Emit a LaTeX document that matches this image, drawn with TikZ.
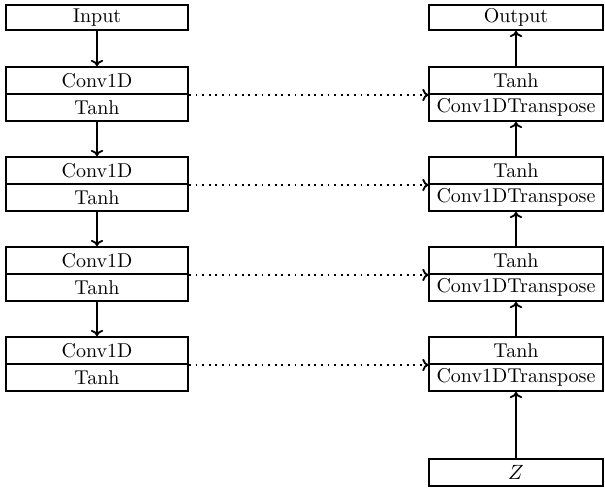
\documentclass[tikz,border=0pt]{standalone}
\usetikzlibrary{arrows.meta}
\begin{document}
\begin{tikzpicture}[x=0.485pt,y=-0.485pt,
  blk/.style={draw,line width=0.9pt,minimum height=13.1pt,inner sep=0pt,anchor=center,font=\fontsize{9.7}{11}\selectfont},
  lbox/.style={blk,minimum width=88.3pt},
  rbox/.style={blk,minimum width=84pt},
  flow/.style={line width=0.9pt,-{To[length=3pt,width=6pt]}},
  skip/.style={line width=0.9pt,dash pattern=on 0.9pt off 2.3pt,-{To[length=3pt,width=6pt]}}]
\useasboundingbox (0,0) rectangle (605,491);
% encoder column (left) and decoder column (right)
\node[lbox,minimum height=12.1pt] (in) at (97,17.5) {Input};
\foreach \i/\t in {1/67,2/157,3/247,4/337}{
  \node[lbox] (e\i a) at (97,\t+13.5) {Conv1D};
  \node[lbox] (e\i b) at (97,\t+40.5) {Tanh};
  \node[rbox] (d\i a) at (516,\t+13.5) {Tanh};
  \node[rbox] (d\i b) at (516,\t+40.5) {Conv1DTranspose};
  \draw[skip] (e\i a.south east) -- (d\i a.south west);
}
\node[rbox,minimum height=12.1pt] (out) at (516,17.5) {Output};
\node[rbox] (z) at (516,472.5) {$Z$};
% encoder arrows
\draw[flow] (in) -- (e1a);
\draw[flow] (e1b) -- (e2a);
\draw[flow] (e2b) -- (e3a);
\draw[flow] (e3b) -- (e4a);
% decoder arrows
\draw[flow] (z) -- (d4b);
\draw[flow] (d4a) -- (d3b);
\draw[flow] (d3a) -- (d2b);
\draw[flow] (d2a) -- (d1b);
\draw[flow] (d1a) -- (out);
\end{tikzpicture}
\end{document}
